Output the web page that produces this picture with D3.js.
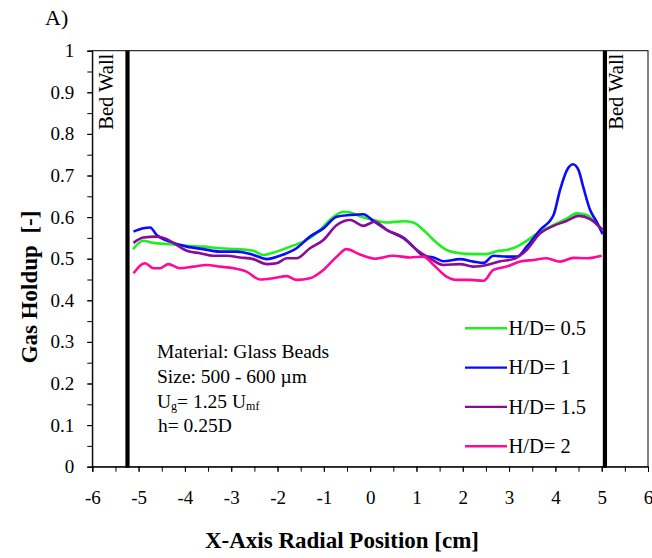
<!DOCTYPE html>
<html>
<head>
<meta charset="utf-8">
<script src="https://cdn.jsdelivr.net/npm/d3@7"></script>
<style>
  body { margin: 0; background: #fff; }
  svg text { font-family: "Liberation Serif", "Times New Roman", serif; fill: #000; }
</style>
</head>
<body>
<svg id="chart"></svg>
<script>
// radial positions (cm) and gas holdup
const posHD05 = [-5.12, -4.90, -4.68, -4.32, -3.96, -3.60, -3.24, -2.88, -2.52, -2.31, -2.02, -1.73, -1.44, -1.08, -0.87, -0.58, -0.43, -0.22, 0.07, 0.36, 0.72, 0.93, 1.15, 1.37, 1.65, 1.94, 2.23, 2.52, 2.73, 2.95, 3.17, 3.38, 3.67, 3.96, 4.25, 4.46, 4.68, 4.89, 5.02];
const valHD05 = [0.523, 0.543, 0.538, 0.535, 0.531, 0.529, 0.525, 0.523, 0.519, 0.509, 0.517, 0.529, 0.541, 0.569, 0.593, 0.613, 0.611, 0.602, 0.593, 0.587, 0.590, 0.587, 0.569, 0.545, 0.521, 0.513, 0.511, 0.511, 0.518, 0.521, 0.529, 0.543, 0.565, 0.581, 0.597, 0.609, 0.605, 0.583, 0.569];

const posHD1 = [-5.11, -4.90, -4.75, -4.61, -4.32, -3.96, -3.60, -3.24, -2.88, -2.52, -2.23, -1.95, -1.59, -1.30, -1.01, -0.72, -0.43, -0.15, 0.07, 0.36, 0.72, 0.93, 1.15, 1.37, 1.58, 1.94, 2.23, 2.45, 2.66, 2.95, 3.17, 3.38, 3.67, 3.96, 4.10, 4.25, 4.38, 4.50, 4.60, 4.75, 4.89, 5.02];
const valHD1 = [0.565, 0.573, 0.575, 0.557, 0.541, 0.529, 0.523, 0.517, 0.517, 0.509, 0.499, 0.507, 0.525, 0.553, 0.573, 0.601, 0.605, 0.607, 0.591, 0.569, 0.549, 0.529, 0.507, 0.503, 0.494, 0.499, 0.493, 0.490, 0.507, 0.505, 0.505, 0.529, 0.569, 0.605, 0.665, 0.713, 0.727, 0.713, 0.673, 0.617, 0.589, 0.559];

const posHD15 = [-5.11, -4.90, -4.61, -4.39, -4.18, -3.96, -3.67, -3.39, -3.10, -2.81, -2.52, -2.23, -2.02, -1.80, -1.59, -1.30, -1.01, -0.72, -0.43, -0.15, 0.10, 0.36, 0.72, 1.01, 1.29, 1.58, 1.94, 2.23, 2.52, 2.81, 3.09, 3.38, 3.67, 3.96, 4.25, 4.50, 4.75, 5.02];
const valHD15 = [0.538, 0.551, 0.553, 0.547, 0.533, 0.519, 0.513, 0.507, 0.507, 0.503, 0.499, 0.487, 0.489, 0.501, 0.501, 0.525, 0.545, 0.581, 0.593, 0.579, 0.589, 0.569, 0.551, 0.521, 0.501, 0.485, 0.487, 0.481, 0.485, 0.494, 0.499, 0.521, 0.561, 0.579, 0.591, 0.603, 0.595, 0.569];

const posHD2 = [-5.11, -4.86, -4.68, -4.54, -4.36, -4.11, -3.82, -3.53, -3.24, -2.95, -2.67, -2.38, -2.09, -1.80, -1.59, -1.30, -1.01, -0.72, -0.51, -0.22, 0.10, 0.50, 0.86, 1.15, 1.37, 1.65, 1.87, 2.16, 2.45, 2.66, 2.95, 3.24, 3.53, 3.81, 4.10, 4.39, 4.68, 5.00];
const valHD2 = [0.465, 0.489, 0.477, 0.477, 0.487, 0.477, 0.481, 0.485, 0.481, 0.477, 0.469, 0.450, 0.453, 0.458, 0.449, 0.453, 0.473, 0.505, 0.523, 0.510, 0.500, 0.507, 0.503, 0.505, 0.485, 0.457, 0.449, 0.449, 0.447, 0.473, 0.481, 0.493, 0.497, 0.501, 0.493, 0.502, 0.501, 0.507];

const seriesNames = ['H/D= 0.5', 'H/D= 1', 'H/D= 1.5', 'H/D= 2'];
const seriesColors = ['#1ef01e', '#0a0aff', '#8a0a9a', '#ff0a96'];
const wallPositions = [-5.24, 5.07];
const xTicks = d3.range(-6, 6.01, 1);
const yTicks = d3.range(0, 1.01, 0.1);

const series = [
  {name: seriesNames[0], pos: posHD05, val: valHD05},
  {name: seriesNames[1], pos: posHD1, val: valHD1},
  {name: seriesNames[2], pos: posHD15, val: valHD15},
  {name: seriesNames[3], pos: posHD2, val: valHD2}
].map((s, i) => ({
  name: s.name,
  color: seriesColors[i],
  points: s.pos.map((p, j) => ({x: p, y: s.val[j]}))
}));

const margin = {top: 50.7, right: 4, bottom: 91.3, left: 92.3};
const totalW = 652, totalH = 558;
const width = totalW - margin.left - margin.right;
const height = totalH - margin.top - margin.bottom;

const svg = d3.select('#chart')
  .attr('width', totalW)
  .attr('height', totalH);

const chart = svg.append('g')
  .attr('transform', `translate(${margin.left}, ${margin.top})`);

const x = d3.scaleLinear().domain([-6, 6]).range([0, width]);
const y = d3.scaleLinear().domain([0, 1]).range([height, 0]);

// plot frame
chart.append('rect')
  .attr('width', width)
  .attr('height', height)
  .attr('fill', 'none')
  .attr('stroke', '#000')
  .attr('stroke-width', 1);

// minor ticks (every half unit on x, every 0.05 on y)
const xAxisMinor = d3.axisBottom(x).tickValues(d3.range(-6, 6.01, 0.5)).tickSize(5).tickFormat('');
const yAxisMinor = d3.axisLeft(y).tickValues(d3.range(0, 1.001, 0.05)).tickSize(5).tickFormat('');

chart.append('g').attr('transform', `translate(0, ${height})`).call(xAxisMinor)
  .call(g => g.select('.domain').remove());
chart.append('g').call(yAxisMinor)
  .call(g => g.select('.domain').remove());

const xAxis = d3.axisBottom(x)
  .tickValues(xTicks)
  .tickSize(5)
  .tickPadding(19)
  .tickFormat(d => String(d));

const yAxis = d3.axisLeft(y)
  .tickValues(yTicks)
  .tickSize(5)
  .tickPadding(13)
  .tickFormat(d => String(+d.toFixed(1)));

chart.append('g')
  .attr('class', 'x axis')
  .attr('transform', `translate(0, ${height})`)
  .call(xAxis)
  .call(g => g.selectAll('text').attr('font-size', 19).attr('font-family', null));

chart.append('g')
  .attr('class', 'y axis')
  .call(yAxis)
  .call(g => g.selectAll('text').attr('font-size', 19).attr('font-family', null));

// bed walls
chart.selectAll('.wall')
  .data(wallPositions)
  .enter().append('line')
  .attr('class', 'wall')
  .attr('x1', d => x(d)).attr('x2', d => x(d))
  .attr('y1', 0).attr('y2', height + 1)
  .attr('stroke', '#000')
  .attr('stroke-width', 4.2);

chart.selectAll('.wallLabel')
  .data(wallPositions)
  .enter().append('text')
  .attr('class', 'wallLabel')
  .attr('transform', d => `translate(${x(d) + (d < 0 ? -14.5 : 18.5)}, 3) rotate(-90)`)
  .attr('text-anchor', 'end')
  .attr('font-size', 20.5)
  .text('Bed Wall');

// curves
const smoothLine = d3.line()
  .x(d => x(d.x))
  .y(d => y(d.y))
  .curve(d3.curveMonotoneX);

chart.selectAll('.curve')
  .data(series)
  .enter().append('path')
  .attr('class', 'curve')
  .attr('d', d => smoothLine(d.points))
  .attr('fill', 'none')
  .attr('stroke', d => d.color)
  .attr('stroke-width', 2.6)
  .attr('stroke-linejoin', 'round');

// legend
const legend = chart.append('g')
  .attr('transform', `translate(${465 - margin.left}, ${328.3 - margin.top})`);

const legendItem = legend.selectAll('g')
  .data(series)
  .enter().append('g')
  .attr('transform', (d, i) => `translate(0, ${i * 39.3})`);

legendItem.append('line')
  .attr('x1', 0).attr('x2', 42)
  .attr('stroke', d => d.color)
  .attr('stroke-width', 2.4);

legendItem.append('text')
  .attr('x', 43.5)
  .attr('dy', '0.33em')
  .attr('font-size', 20.5)
  .text(d => d.name);

// test conditions
const note = svg.append('g').attr('font-size', 19.5);
note.append('text').attr('x', 157).attr('y', 358.3).text('Material: Glass Beads');
note.append('text').attr('x', 157).attr('y', 382.7).text('Size: 500 - 600 \u00b5m');
const ug = note.append('text').attr('x', 157).attr('y', 407.5);
ug.append('tspan').text('U');
ug.append('tspan').attr('font-size', 12).attr('dy', 2.5).text('g');
ug.append('tspan').attr('dy', -2.5).text('= 1.25 U');
ug.append('tspan').attr('font-size', 12).attr('dy', 2.5).text('mf');
note.append('text').attr('x', 158).attr('y', 431.5).text('h= 0.25D');

// axis titles and panel label
svg.append('text')
  .attr('x', 342)
  .attr('y', 548)
  .attr('text-anchor', 'middle')
  .attr('font-size', 23)
  .attr('font-weight', 'bold')
  .text('X-Axis Radial Position [cm]');

svg.append('text')
  .attr('transform', 'translate(37, 287) rotate(-90)')
  .attr('text-anchor', 'middle')
  .attr('font-size', 23)
  .attr('font-weight', 'bold')
  .style('white-space', 'pre')
  .text('Gas Holdup  [-]');

svg.append('text')
  .attr('x', 45)
  .attr('y', 25)
  .attr('font-size', 22)
  .text('A)');
</script>
</body>
</html>
